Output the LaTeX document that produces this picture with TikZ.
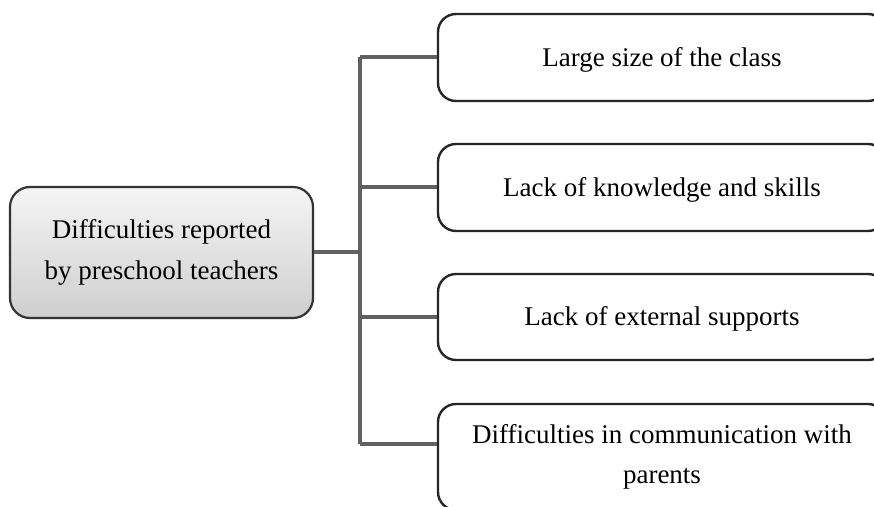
\documentclass[tikz,border=0pt]{standalone}
\usepackage{fontspec}
\setmainfont{Liberation Serif}
\begin{document}
\begin{tikzpicture}[x=1pt,y=-1pt,
  rbox/.style={draw=black!85, line width=2.4pt, rounded corners=18pt, fill=white,
    minimum width=448pt, inner sep=0pt, align=center, font=\fontsize{27}{40}\selectfont},
  oneline/.style={text height=17pt, text depth=0pt},
  mainbox/.style={draw=black!80, line width=2.2pt, rounded corners=20pt,
    top color=gray!8, bottom color=gray!38, minimum width=303pt, minimum height=131pt,
    inner sep=0pt, align=center, font=\fontsize{27}{41}\selectfont},
  conn/.style={draw=black!62, line width=3.2pt}]
\useasboundingbox (0,0) rectangle (874,506);
\clip (0,0) rectangle (874,506);
\node[mainbox] (m) at (161.5,252.5) {Difficulties reported\\by preschool teachers};
\node[rbox, oneline, minimum height=87pt] (b1) at (662,57.5) {Large size of the class};
\node[rbox, oneline, minimum height=87pt] (b2) at (662,187.5) {Lack of knowledge and skills};
\node[rbox, oneline, minimum height=86pt] (b3) at (662,317) {Lack of external supports};
\node[rbox, minimum height=106pt] (b4) at (662,457) {Difficulties in communication with\\parents};
\coordinate (t0) at (360,252);
\coordinate (t1) at (360,57);
\coordinate (t2) at (360,187);
\coordinate (t3) at (360,317);
\coordinate (t4) at (360,444);
\draw[conn] (t1) -- (t4);
\draw[conn] (m.east |- t0) -- (t0);
\draw[conn] (t1) -- (b1.west |- t1);
\draw[conn] (t2) -- (b2.west |- t2);
\draw[conn] (t3) -- (b3.west |- t3);
\draw[conn] (t4) -- (b4.west |- t4);
\end{tikzpicture}
\end{document}
